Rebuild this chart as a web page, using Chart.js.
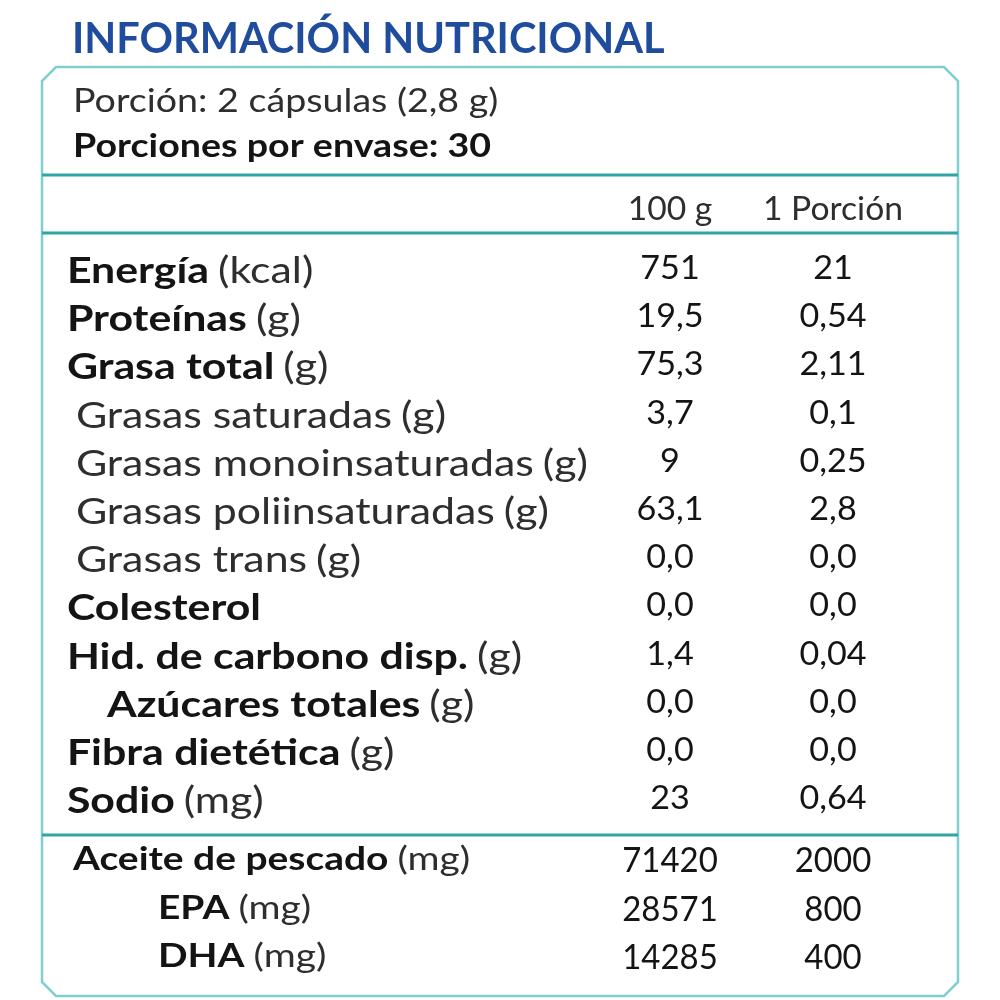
<!DOCTYPE html>
<html>
<head>
<meta charset="utf-8">
<script src="https://cdn.jsdelivr.net/npm/chart.js@4.4.1/dist/chart.umd.min.js"></script>
<style>
  html, body { margin: 0; padding: 0; background: #ffffff; }
  #wrap { width: 1000px; height: 1000px; position: relative; }
</style>
</head>
<body>
<div id="wrap"><canvas id="c"></canvas></div>
<script>
// ---------- DATA ----------
const title = 'INFORMACIÓN NUTRICIONAL';
const servingSize = 'Porción: 2 cápsulas (2,8 g)';
const servingsPerPack = 'Porciones por envase: 30';
const columns = ['100 g', '1 Porción'];

const nutrients = ['Energía', 'Proteínas', 'Grasa total', 'Grasas saturadas',
  'Grasas monoinsaturadas', 'Grasas poliinsaturadas', 'Grasas trans', 'Colesterol',
  'Hid. de carbono disp.', 'Azúcares totales', 'Fibra dietética', 'Sodio'];
const nutrientUnits = ['(kcal)', '(g)', '(g)', '(g)', '(g)', '(g)', '(g)', '', '(g)', '(g)', '(g)', '(mg)'];
const per100g = ['751', '19,5', '75,3', '3,7', '9', '63,1', '0,0', '0,0', '1,4', '0,0', '0,0', '23'];
const perPortion = ['21', '0,54', '2,11', '0,1', '0,25', '2,8', '0,0', '0,0', '0,04', '0,0', '0,0', '0,64'];

const oils = ['Aceite de pescado', 'EPA', 'DHA'];
const oilUnits = ['(mg)', '(mg)', '(mg)'];
const oilPer100g = ['71420', '28571', '14285'];
const oilPerPortion = ['2000', '800', '400'];

// ---------- STYLE (kept apart from data) ----------
const FONT = 'Lato';
const BLUE = '#1f4c9c';
const TEAL = '#2fa5a8';
const TEAL_LIGHT = '#7fcfd1';
const INK = '#141414';
const INK_SOFT = '#2e2e2e';
const labelStyle = {              // indent (px) and weight of the name part
  'Grasas saturadas': { indent: 9, bold: false },
  'Grasas monoinsaturadas': { indent: 9, bold: false },
  'Grasas poliinsaturadas': { indent: 9, bold: false },
  'Grasas trans': { indent: 9, bold: false },
  'Azúcares totales': { indent: 40, bold: true },
  'Aceite de pescado': { indent: 6, bold: true },
  'EPA': { indent: 91, bold: true },
  'DHA': { indent: 91, bold: true }
};
const sectionText = {
  yN: { size: 36, stretch: 1.19, numSize: 33.5, numStretch: 1.02, numShift: -4 },
  yO: { size: 33, stretch: 1.18, numSize: 34, numStretch: 0.97, numShift: 2 }
};
const LABEL_COL = -3.70;   // x-scale value of the name column (left edge)

function pts(arr, col) { return arr.map((_, i) => ({ x: col, y: i })); }

function drawStretched(ctx, text, x, y, align, sx) {
  ctx.save();
  ctx.translate(x, y);
  ctx.scale(sx, 1);
  ctx.textAlign = align;
  ctx.fillText(text, 0, 0);
  ctx.restore();
  return ctx.measureText(text).width * sx;
}

const tablePlugin = {
  id: 'nutritionTable',
  afterDraw(chart) {
    const ctx = chart.ctx;
    const xs = chart.scales.x;
    ctx.save();
    ctx.textBaseline = 'alphabetic';

    // title
    ctx.fillStyle = BLUE;
    ctx.font = `bold 41.5px ${FONT}`;
    drawStretched(ctx, title, 72, 53, 'left', 1.0);

    // outer frame with chamfered corners
    const L = 42, R = 958, T = 67, B = 996, c = 14;
    ctx.strokeStyle = TEAL_LIGHT;
    ctx.lineWidth = 2.5;
    ctx.beginPath();
    ctx.moveTo(L + c, T); ctx.lineTo(R - c, T); ctx.lineTo(R, T + c);
    ctx.lineTo(R, B - c); ctx.lineTo(R - c, B); ctx.lineTo(L + c, B);
    ctx.lineTo(L, B - c); ctx.lineTo(L, T + c); ctx.closePath();
    ctx.stroke();

    // separators
    ctx.strokeStyle = TEAL;
    ctx.lineWidth = 3;
    [175, 233, 835].forEach(y => {
      ctx.beginPath(); ctx.moveTo(L, y); ctx.lineTo(R, y); ctx.stroke();
    });

    // serving info
    ctx.fillStyle = INK_SOFT;
    ctx.font = `32px ${FONT}`;
    drawStretched(ctx, servingSize, 73, 112, 'left', 1.175);
    ctx.fillStyle = INK;
    ctx.font = `bold 32px ${FONT}`;
    drawStretched(ctx, servingsPerPack, 73, 157, 'left', 1.175);

    // column headers
    ctx.fillStyle = INK_SOFT;
    ctx.font = `33px ${FONT}`;
    columns.forEach((h, i) => drawStretched(ctx, h, xs.getPixelForValue(i), 220, 'center', 1.02));

    // rows
    chart.data.datasets.forEach((ds, di) => {
      const meta = chart.getDatasetMeta(di);
      const sec = sectionText[ds.yAxisID];
      meta.data.forEach((el, i) => {
        const x = el.x, y = el.y;
        if (ds.kind === 'label') {
          const name = ds.names[i];
          const st = labelStyle[name] || { indent: 0, bold: true };
          let cx = x + st.indent;
          ctx.fillStyle = st.bold ? INK : INK_SOFT;
          ctx.font = `${st.bold ? 'bold ' : ''}${sec.size}px ${FONT}`;
          cx += drawStretched(ctx, name, cx, y, 'left', sec.stretch);
          const unit = ds.units[i];
          if (unit) {
            ctx.fillStyle = INK_SOFT;
            ctx.font = `${sec.size}px ${FONT}`;
            cx += 9;
            drawStretched(ctx, unit, cx, y, 'left', sec.stretch);
          }
        } else {
          ctx.fillStyle = INK;
          ctx.font = `${sec.numSize}px ${FONT}`;
          drawStretched(ctx, ds.values[i], x, y + sec.numShift, 'center', sec.numStretch);
        }
      });
    });
    ctx.restore();
  }
};

function makeChart() {
  new Chart(document.getElementById('c'), {
    type: 'scatter',
    data: {
      datasets: [
        { kind: 'label', names: nutrients, units: nutrientUnits, data: pts(nutrients, LABEL_COL), yAxisID: 'yN' },
        { kind: 'value', values: per100g, data: pts(per100g, 0), yAxisID: 'yN' },
        { kind: 'value', values: perPortion, data: pts(perPortion, 1), yAxisID: 'yN' },
        { kind: 'label', names: oils, units: oilUnits, data: pts(oils, LABEL_COL), yAxisID: 'yO' },
        { kind: 'value', values: oilPer100g, data: pts(oilPer100g, 0), yAxisID: 'yO' },
        { kind: 'value', values: oilPerPortion, data: pts(oilPerPortion, 1), yAxisID: 'yO' }
      ]
    },
    options: {
      responsive: true,
      maintainAspectRatio: false,
      animation: false,
      layout: { padding: 0 },
      elements: { point: { radius: 0, hoverRadius: 0 } },
      plugins: { legend: { display: false }, tooltip: { enabled: false } },
      scales: {
        x: { type: 'linear', display: false, min: -670 / 163, max: 330 / 163 },
        yN: { type: 'linear', display: false, reverse: true, min: -283 / 48.2, max: 717 / 48.2 },
        yO: { type: 'linear', display: false, reverse: true, min: -870 / 48.5, max: 130 / 48.5 }
      }
    },
    plugins: [tablePlugin]
  });
}

document.getElementById('c').style.width = '1000px';
document.getElementById('c').style.height = '1000px';
Promise.all([
  document.fonts.load(`bold 30px ${FONT}`),
  document.fonts.load(`30px ${FONT}`)
]).then(makeChart, makeChart);
</script>
</body>
</html>
